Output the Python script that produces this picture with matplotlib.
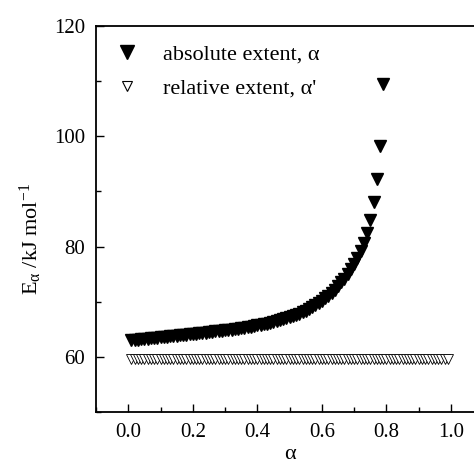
import numpy as np
import matplotlib.pyplot as plt
from matplotlib.ticker import MultipleLocator

plt.rcParams['font.family'] = ['Liberation Serif', 'DejaVu Serif']
plt.rcParams['mathtext.fontset'] = 'custom'
plt.rcParams['mathtext.rm'] = 'Liberation Serif'
plt.rcParams['mathtext.it'] = 'Liberation Serif:italic'

# absolute extent, alpha
alpha_abs = [0.01, 0.02, 0.03, 0.04, 0.05, 0.06, 0.07, 0.08, 0.09, 0.10,
             0.11, 0.12, 0.13, 0.14, 0.15, 0.16, 0.17, 0.18, 0.19, 0.20,
             0.21, 0.22, 0.23, 0.24, 0.25, 0.26, 0.27, 0.28, 0.29, 0.30,
             0.31, 0.32, 0.33, 0.34, 0.35, 0.36, 0.37, 0.38, 0.39, 0.40,
             0.41, 0.42, 0.43, 0.44, 0.45, 0.46, 0.47, 0.48, 0.49, 0.50,
             0.51, 0.52, 0.53, 0.54, 0.55, 0.56, 0.57, 0.58, 0.59, 0.60,
             0.61, 0.62, 0.63, 0.64, 0.65, 0.66, 0.67, 0.68, 0.69, 0.70,
             0.71, 0.72, 0.73, 0.74, 0.75, 0.76, 0.77, 0.78, 0.79]
E_abs = [63.0, 63.05, 63.1, 63.15, 63.2, 63.3, 63.35, 63.4, 63.5, 63.55,
         63.6, 63.65, 63.7, 63.75, 63.8, 63.9, 63.95, 64.0, 64.1, 64.15,
         64.2, 64.25, 64.3, 64.4, 64.45, 64.5, 64.6, 64.65, 64.7, 64.8,
         64.9, 64.95, 65.05, 65.1, 65.2, 65.3, 65.4, 65.5, 65.6, 65.7,
         65.8, 65.9, 66.0, 66.15, 66.3, 66.45, 66.6, 66.8, 67.0, 67.2,
         67.4, 67.6, 67.85, 68.1, 68.4, 68.7, 69.0, 69.4, 69.8, 70.2,
         70.6, 71.1, 71.6, 72.2, 72.8, 73.5, 74.2, 75.0, 75.9, 76.9,
         78.0, 79.2, 80.7, 82.5, 84.9, 88.1, 92.2, 98.2, 109.5]

# relative extent, alpha' (flat at ~60)
alpha_rel = [round(0.01 * i, 2) for i in range(1, 100)]
E_rel = [59.6] * len(alpha_rel)

xtick_labels = ['0.0', '0.2', '0.4', '0.6', '0.8', '1.0']

fig = plt.figure(figsize=(4.74, 4.66), dpi=100)
ax = fig.add_axes([0.2025, 0.116, 0.817, 0.828])

ax.plot(alpha_abs, E_abs, linestyle='none', marker='v', markersize=8,
        color='black', label='absolute extent, α')
ax.plot(alpha_rel, E_rel, linestyle='none', marker='v', markersize=7.5,
        markerfacecolor='white', markeredgecolor='black', markeredgewidth=0.6,
        label="relative extent, α'")

ax.set_xlim(-0.1, 1.1)
ax.set_ylim(50, 120)
ax.xaxis.set_minor_locator(MultipleLocator(0.1))
ax.yaxis.set_major_locator(MultipleLocator(20))
ax.yaxis.set_minor_locator(MultipleLocator(10))
ax.set_xticks([0.0, 0.2, 0.4, 0.6, 0.8, 1.0])
ax.set_xticklabels(xtick_labels)
ax.tick_params(which='both', direction='in', labelsize=15, width=1)
ax.tick_params(which='major', length=6)
ax.tick_params(which='minor', length=3.5)
ax.tick_params(axis='x', pad=8)
ax.tick_params(axis='y', pad=8)
for s in ax.spines.values():
    s.set_linewidth(1.3)

ax.set_xlabel('α', fontsize=16, labelpad=2)
ax.set_ylabel(r'E$_{\mathrm{α}}$ /kJ mol$^{\mathrm{-1}}$', fontsize=16)
ax.yaxis.set_label_coords(-0.135, 0.448)

leg = ax.legend(loc='upper left', frameon=False, fontsize=16,
                handletextpad=1.0, labelspacing=0.6, borderaxespad=0.3,
                handlelength=1.2, borderpad=0.5)
leg.legend_handles[0].set_markersize(9.5)
leg.legend_handles[1].set_markersize(6.5)
leg.legend_handles[1].set_markeredgewidth(0.8)

fig.savefig('out.png', dpi=100)
